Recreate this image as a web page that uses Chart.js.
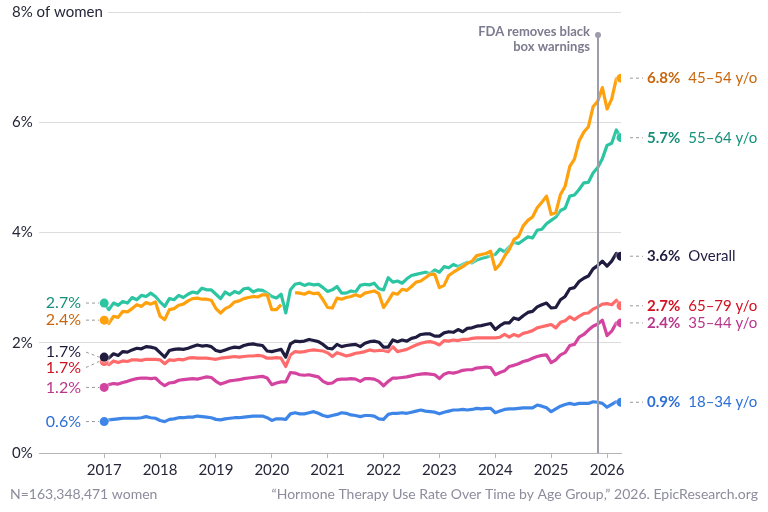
<!DOCTYPE html>
<html>
<head>
<meta charset="utf-8">
<script src="https://cdn.jsdelivr.net/npm/chart.js@4.4.1/dist/chart.umd.min.js"></script>
<style>
  html, body { margin: 0; padding: 0; background: #fff; }
  #wrap { width: 768px; height: 512px; position: relative; }
</style>
</head>
<body>
<div id="wrap"><canvas id="chart"></canvas></div>
<script>
// monthly points, Jan 2017 .. Apr 2026, as decimal years
const months = Array.from({ length: 112 }, (_, i) => 2017 + i / 12);
const yearTicks = [2017, 2018, 2019, 2020, 2021, 2022, 2023, 2024, 2025, 2026];
const yTicks = [0, 2, 4, 6, 8];
const fdaDate = 2025 + 10 / 12;

const seriesNames = ['45–54 y/o', '55–64 y/o', 'Overall', '65–79 y/o', '35–44 y/o', '18–34 y/o'];

const age4554 = [
  2.41, 2.35, 2.48, 2.46, 2.57, 2.56, 2.62, 2.69, 2.66, 2.73, 2.70, 2.74,
  2.48, 2.42, 2.60, 2.62, 2.68, 2.70, 2.76, 2.80, 2.81, 2.79, 2.79, 2.77,
  2.62, 2.54, 2.62, 2.66, 2.74, 2.76, 2.80, 2.82, 2.84, 2.83, 2.87, 2.87,
  2.60, 2.60, 2.69, null, null, 2.91, 2.90, 2.88, 2.92, 2.89, 2.90, 2.78,
  2.64, 2.63, 2.81, 2.79, 2.82, 2.84, 2.87, 2.84, 2.90, 2.92, 2.94, 2.89,
  2.64, 2.76, 2.90, 2.88, 2.97, 2.95, 3.02, 3.10, 3.12, 3.18, 3.24, 3.24,
  3.00, 3.04, 3.22, 3.28, 3.33, 3.38, 3.44, 3.48, 3.58, 3.60, 3.62, 3.66,
  3.33, 3.42, 3.57, 3.69, 3.87, 3.93, 4.12, 4.22, 4.28, 4.45, 4.55, 4.66,
  4.33, 4.36, 4.69, 4.84, 5.20, 5.33, 5.66, 5.82, 5.92, 6.28, 6.38, 6.63,
  6.24, 6.42, 6.79, 6.80
];
const age5564 = [
  2.72, 2.60, 2.72, 2.68, 2.75, 2.72, 2.82, 2.78, 2.86, 2.84, 2.90, 2.84,
  2.74, 2.66, 2.80, 2.78, 2.86, 2.82, 2.88, 2.92, 2.90, 2.99, 2.96, 2.96,
  2.88, 2.80, 2.92, 2.87, 2.93, 2.90, 2.98, 2.99, 2.92, 2.96, 2.95, 2.90,
  2.84, 2.81, 2.88, 2.54, 2.96, 3.06, 3.08, 3.04, 3.07, 3.05, 3.06, 3.00,
  2.93, 2.96, 3.02, 2.90, 2.90, 2.94, 2.92, 3.04, 3.06, 3.05, 3.08, 2.98,
  2.96, 3.18, 3.10, 3.12, 3.08, 3.16, 3.22, 3.24, 3.26, 3.28, 3.25, 3.32,
  3.28, 3.38, 3.36, 3.42, 3.38, 3.42, 3.46, 3.45, 3.50, 3.53, 3.55, 3.58,
  3.60, 3.70, 3.65, 3.74, 3.82, 3.80, 3.86, 3.92, 3.90, 4.04, 4.06, 4.16,
  4.22, 4.28, 4.40, 4.44, 4.66, 4.68, 4.78, 4.90, 4.91, 5.08, 5.18, 5.34,
  5.58, 5.62, 5.86, 5.72
];
const overall = [
  1.74, 1.72, 1.80, 1.77, 1.84, 1.83, 1.87, 1.90, 1.89, 1.93, 1.92, 1.90,
  1.82, 1.74, 1.86, 1.88, 1.89, 1.88, 1.90, 1.93, 1.96, 1.94, 1.95, 1.93,
  1.86, 1.84, 1.87, 1.90, 1.92, 1.91, 1.95, 1.97, 1.98, 1.96, 1.95, 1.85,
  1.84, 1.86, 1.88, 1.74, 1.98, 2.03, 2.02, 2.03, 2.06, 2.04, 2.02, 1.97,
  1.90, 1.89, 1.97, 1.93, 1.95, 1.96, 1.97, 1.93, 1.99, 2.02, 2.03, 2.01,
  1.92, 1.92, 2.05, 2.02, 2.05, 2.03, 2.08, 2.10, 2.15, 2.16, 2.16, 2.12,
  2.12, 2.18, 2.20, 2.19, 2.24, 2.20, 2.26, 2.27, 2.30, 2.31, 2.33, 2.35,
  2.24, 2.31, 2.36, 2.36, 2.45, 2.42, 2.49, 2.55, 2.57, 2.65, 2.69, 2.72,
  2.63, 2.64, 2.78, 2.84, 2.98, 3.00, 3.11, 3.17, 3.21, 3.34, 3.40, 3.48,
  3.39, 3.48, 3.62, 3.57
];
const age6579 = [
  1.66, 1.60, 1.67, 1.64, 1.67, 1.66, 1.69, 1.69, 1.68, 1.70, 1.70, 1.70,
  1.69, 1.62, 1.69, 1.68, 1.70, 1.69, 1.72, 1.73, 1.72, 1.72, 1.72, 1.71,
  1.70, 1.72, 1.73, 1.74, 1.75, 1.74, 1.75, 1.76, 1.76, 1.77, 1.76, 1.72,
  1.72, 1.73, 1.72, 1.57, 1.78, 1.84, 1.83, 1.84, 1.86, 1.87, 1.86, 1.85,
  1.82, 1.75, 1.82, 1.79, 1.76, 1.78, 1.81, 1.82, 1.84, 1.87, 1.85, 1.86,
  1.86, 1.84, 1.93, 1.84, 1.86, 1.88, 1.92, 1.96, 1.99, 2.01, 2.02, 2.00,
  1.96, 2.04, 2.03, 2.05, 2.04, 2.06, 2.06, 2.08, 2.09, 2.09, 2.09, 2.09,
  2.09, 2.10, 2.15, 2.10, 2.15, 2.12, 2.17, 2.19, 2.22, 2.27, 2.29, 2.31,
  2.33, 2.27, 2.37, 2.40, 2.47, 2.42, 2.48, 2.53, 2.54, 2.61, 2.65, 2.70,
  2.71, 2.69, 2.77, 2.67
];
const age3544 = [
  1.19, 1.24, 1.26, 1.25, 1.28, 1.30, 1.33, 1.35, 1.36, 1.36, 1.35, 1.36,
  1.28, 1.22, 1.27, 1.28, 1.32, 1.33, 1.34, 1.35, 1.34, 1.36, 1.38, 1.37,
  1.30, 1.25, 1.28, 1.31, 1.32, 1.33, 1.35, 1.36, 1.37, 1.38, 1.39, 1.36,
  1.24, 1.27, 1.29, 1.29, 1.46, 1.45, 1.42, 1.41, 1.42, 1.40, 1.38, 1.30,
  1.26, 1.27, 1.33, 1.34, 1.34, 1.35, 1.34, 1.30, 1.35, 1.35, 1.34, 1.30,
  1.22, 1.30, 1.36, 1.36, 1.37, 1.38, 1.40, 1.42, 1.43, 1.44, 1.43, 1.42,
  1.35, 1.43, 1.46, 1.45, 1.47, 1.50, 1.51, 1.51, 1.54, 1.55, 1.56, 1.55,
  1.42, 1.46, 1.49, 1.57, 1.59, 1.62, 1.66, 1.68, 1.72, 1.75, 1.77, 1.78,
  1.64, 1.69, 1.78, 1.82, 1.95, 1.97, 2.10, 2.15, 2.23, 2.30, 2.34, 2.41,
  2.13, 2.21, 2.36, 2.36
];
const age1834 = [
  0.57, 0.60, 0.61, 0.62, 0.63, 0.63, 0.63, 0.63, 0.64, 0.66, 0.64, 0.63,
  0.59, 0.57, 0.61, 0.62, 0.64, 0.64, 0.65, 0.65, 0.67, 0.66, 0.65, 0.64,
  0.61, 0.60, 0.62, 0.63, 0.64, 0.64, 0.65, 0.66, 0.67, 0.67, 0.67, 0.64,
  0.59, 0.62, 0.62, 0.61, 0.71, 0.73, 0.71, 0.71, 0.73, 0.75, 0.72, 0.68,
  0.66, 0.68, 0.70, 0.73, 0.72, 0.69, 0.68, 0.66, 0.68, 0.68, 0.67, 0.62,
  0.61, 0.70, 0.72, 0.72, 0.73, 0.72, 0.74, 0.76, 0.78, 0.76, 0.75, 0.74,
  0.71, 0.74, 0.76, 0.78, 0.78, 0.79, 0.78, 0.79, 0.81, 0.80, 0.81, 0.81,
  0.73, 0.76, 0.79, 0.80, 0.80, 0.81, 0.82, 0.82, 0.82, 0.87, 0.85, 0.82,
  0.75, 0.80, 0.85, 0.88, 0.90, 0.88, 0.90, 0.90, 0.90, 0.93, 0.92, 0.90,
  0.83, 0.88, 0.93, 0.92
];

const allSeries = [age4554, age5564, overall, age6579, age3544, age1834];
const lineColors = ['#ffa10d', '#2cc5a2', '#1f1c40', '#ff6b6b', '#d4439f', '#3d86e8'];
const textColors = ['#c9650c', '#15907a', '#1f1c40', '#d2101f', '#b9378b', '#2d6fd6'];
const startNudge = [0, 0, -5, 6, 0, 0];

Chart.defaults.font.family = 'Lato, "Open Sans", sans-serif';
Chart.defaults.color = '#26263a';

const annotations = {
  id: 'annotations',
  beforeDatasetsDraw(chart) {
    const { ctx, chartArea, scales: { y } } = chart;
    const ty = Math.round(y.getPixelForValue(8)) + 0.5;
    ctx.save();
    // top gridline starts after the "8% of women" label
    ctx.strokeStyle = '#dcdcdc';
    ctx.lineWidth = 1;
    ctx.beginPath();
    ctx.moveTo(108, ty);
    ctx.lineTo(chartArea.right, ty);
    ctx.stroke();
    ctx.font = '15px Lato';
    ctx.fillStyle = '#26263a';
    ctx.textAlign = 'left';
    ctx.textBaseline = 'middle';
    ctx.fillText('8% of women', 12, ty);
    ctx.restore();
  },
  beforeDatasetDraw(chart) {
    chart.ctx.save();
    chart.ctx.shadowColor = '#ffffff';
    chart.ctx.shadowBlur = 3;
  },
  afterDatasetDraw(chart) {
    chart.ctx.restore();
  },
  afterDatasetsDraw(chart) {
    const { ctx, chartArea, scales: { x, y } } = chart;
    ctx.save();

    // FDA marker
    const fx = Math.round(x.getPixelForValue(fdaDate));
    ctx.strokeStyle = '#9d9cab';
    ctx.lineWidth = 2;
    ctx.beginPath();
    ctx.moveTo(fx, 35);
    ctx.lineTo(fx, chartArea.bottom);
    ctx.stroke();
    ctx.fillStyle = '#9d9cab';
    ctx.beginPath();
    ctx.arc(fx, 35, 3, 0, Math.PI * 2);
    ctx.fill();
    ctx.fillStyle = '#7c7b8f';
    ctx.font = 'bold 13px Lato';
    ctx.textAlign = 'right';
    ctx.textBaseline = 'middle';
    ctx.fillText('FDA removes black', fx - 8, 32);
    ctx.fillText('box warnings', fx - 8, 47);

    ctx.setLineDash([3, 3]);
    ctx.lineWidth = 1;
    ctx.strokeStyle = '#9a9a9a';

    allSeries.forEach((vals, k) => {
      // start label
      const y0 = y.getPixelForValue(vals[0]);
      const ly = y0 + startNudge[k];
      ctx.beginPath();
      ctx.moveTo(86, ly);
      ctx.lineTo(99, y0);
      ctx.stroke();
      ctx.font = '16px Lato';
      ctx.fillStyle = textColors[k];
      ctx.textAlign = 'right';
      ctx.fillText(vals[0].toFixed(1) + '%', 81, ly);

      // end label
      const last = vals[vals.length - 1];
      const y1 = y.getPixelForValue(last);
      ctx.beginPath();
      ctx.moveTo(630, y1);
      ctx.lineTo(643, y1);
      ctx.stroke();
      ctx.textAlign = 'left';
      ctx.font = 'bold 15px Lato';
      const valText = last.toFixed(1) + '%';
      ctx.fillText(valText, 647, y1);
      const w = ctx.measureText(valText).width;
      ctx.font = '15px Lato';
      ctx.fillText(seriesNames[k], 647 + w + 8, y1);
    });

    // footer
    ctx.setLineDash([]);
    ctx.font = '14px Lato';
    ctx.fillStyle = '#8c8c9d';
    ctx.textAlign = 'left';
    ctx.fillText('N=163,348,471 women', 10, 494);
    ctx.textAlign = 'right';
    ctx.fillText('\u201CHormone Therapy Use Rate Over Time by Age Group,\u201D 2026. EpicResearch.org', 758, 494);
    ctx.restore();
  }
};

const ctx = document.getElementById('chart').getContext('2d');
new Chart(ctx, {
  type: 'line',
  data: {
    datasets: allSeries.map((vals, k) => ({
      label: seriesNames[k],
      data: vals.map((v, i) => ({ x: months[i], y: v })),
      borderColor: lineColors[k],
      backgroundColor: lineColors[k],
      borderWidth: 3.2,
      tension: 0,
      borderJoinStyle: 'round',
      pointRadius: c => (c.dataIndex === 0 || c.dataIndex === vals.length - 1) ? 4.5 : 0,
      pointHoverRadius: 0,
      pointBorderWidth: 0
    }))
  },
  options: {
    responsive: true,
    maintainAspectRatio: false,
    animation: false,
    layout: { padding: { top: 5, right: 147, bottom: 29, left: 12 } },
    plugins: { legend: { display: false }, tooltip: { enabled: false } },
    scales: {
      x: {
        type: 'linear',
        min: 2017 - 14 / 12,
        max: 2026.25,
        afterBuildTicks: s => { s.ticks = yearTicks.map(v => ({ value: v })); },
        afterFit: s => { s.height = 30; },
        grid: { drawOnChartArea: false, drawTicks: true, tickLength: 5, color: '#b5b5b5' },
        border: { display: true, color: '#b5b5b5', width: 1 },
        ticks: { font: { size: 15 }, color: '#26263a', padding: 3, maxRotation: 0, callback: v => String(v) }
      },
      y: {
        min: 0,
        max: 8,
        afterBuildTicks: s => { s.ticks = yTicks.map(v => ({ value: v })); },
        afterFit: s => { s.width = 27; },
        grid: {
          drawTicks: false,
          color: c => (c.tick && [2, 4, 6].includes(c.tick.value)) ? '#dcdcdc' : 'rgba(0,0,0,0)'
        },
        border: { display: false },
        ticks: {
          crossAlign: 'far',
          font: { size: 15 },
          color: '#26263a',
          callback: v => v === 8 ? '' : v + '%'
        }
      }
    }
  },
  plugins: [annotations]
});
</script>
</body>
</html>
